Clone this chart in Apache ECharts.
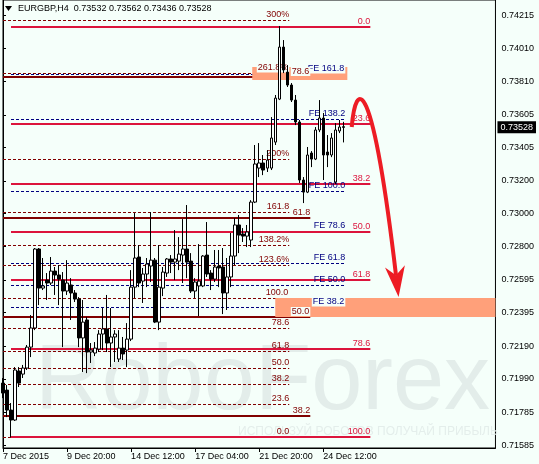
<!DOCTYPE html>
<html>
<head>
<meta charset="utf-8">
<script src="https://cdn.jsdelivr.net/npm/echarts@6/dist/echarts.min.js"></script>
<style>
html, body { margin: 0; padding: 0; background: #F5FFFA; }
#chart { width: 539px; height: 464px; }
</style>
</head>
<body>
<div id="chart"></div>
<script>
const symbolName = 'EURGBP,H4'

// H4 candles
const opens = [0.71964, 0.71921, 0.71799, 0.71738, 0.72038, 0.72019, 0.72056, 0.72184, 0.72301, 0.72784,
  0.72545, 0.72594, 0.72576, 0.72649, 0.72625, 0.72594, 0.72527, 0.72564, 0.72515, 0.72478,
  0.72240, 0.72350, 0.72154, 0.72148, 0.72172, 0.72264, 0.72295, 0.72209, 0.72246, 0.72111,
  0.72178, 0.72166, 0.72233, 0.72551, 0.72735, 0.72588, 0.72631, 0.72680, 0.72716, 0.72337,
  0.72545, 0.72637, 0.72723, 0.72704, 0.72710, 0.72747, 0.72784, 0.72710, 0.72527, 0.72558,
  0.72558, 0.72747, 0.72637, 0.72600, 0.72680, 0.72674, 0.72515, 0.72613, 0.72741, 0.72931,
  0.72876, 0.72863, 0.72839, 0.73071, 0.73279, 0.73310, 0.73279, 0.73279, 0.73438, 0.73701,
  0.74019, 0.73866, 0.73787, 0.73695, 0.73561, 0.73206, 0.73132, 0.73371, 0.73334, 0.73512,
  0.73585, 0.73377, 0.73359, 0.73194, 0.73506, 0.73532]
const closes = [0.71903, 0.71799, 0.71738, 0.72044, 0.71964, 0.72056, 0.72184, 0.72301, 0.72784, 0.72545,
  0.72558, 0.72576, 0.72649, 0.72625, 0.72600, 0.72527, 0.72576, 0.72515, 0.72478, 0.72240,
  0.72337, 0.72154, 0.72166, 0.72178, 0.72264, 0.72295, 0.72209, 0.72246, 0.72264, 0.72178,
  0.72142, 0.72233, 0.72551, 0.72729, 0.72576, 0.72631, 0.72692, 0.72716, 0.72337, 0.72551,
  0.72643, 0.72723, 0.72704, 0.72723, 0.72753, 0.72784, 0.72704, 0.72527, 0.72582, 0.72588,
  0.72741, 0.72631, 0.72600, 0.72674, 0.72668, 0.72515, 0.72613, 0.72741, 0.72931, 0.72869,
  0.72863, 0.72888, 0.73071, 0.73304, 0.73310, 0.73267, 0.73328, 0.73463, 0.73707, 0.74019,
  0.73879, 0.73787, 0.73695, 0.73561, 0.73206, 0.73132, 0.73359, 0.73334, 0.73512, 0.73585,
  0.73359, 0.73359, 0.73463, 0.73512, 0.73530, 0.73528]
const lows = [0.71872, 0.71756, 0.71634, 0.71732, 0.71940, 0.71995, 0.72044, 0.72123, 0.72288, 0.72441,
  0.72533, 0.72472, 0.72564, 0.72503, 0.72441, 0.72184, 0.72503, 0.72350, 0.72460, 0.72184,
  0.72032, 0.72025, 0.72087, 0.72129, 0.72154, 0.72166, 0.72154, 0.72062, 0.72093, 0.72093,
  0.72105, 0.72062, 0.72221, 0.72484, 0.72551, 0.72454, 0.72551, 0.72582, 0.72331, 0.72288,
  0.72496, 0.72613, 0.72637, 0.72594, 0.72655, 0.72576, 0.72606, 0.72515, 0.72484, 0.72374,
  0.72551, 0.72613, 0.72533, 0.72582, 0.72551, 0.72386, 0.72411, 0.72551, 0.72686, 0.72759,
  0.72827, 0.72796, 0.72796, 0.73065, 0.73224, 0.73236, 0.73255, 0.73267, 0.73420, 0.73695,
  0.73860, 0.73775, 0.73683, 0.73542, 0.73188, 0.73065, 0.73126, 0.73285, 0.73328, 0.73499,
  0.73206, 0.73285, 0.73346, 0.73181, 0.73493, 0.73436]
const highs = [0.71995, 0.71952, 0.71842, 0.72062, 0.72062, 0.72075, 0.72197, 0.72380, 0.72790, 0.72790,
  0.72729, 0.72637, 0.72735, 0.72674, 0.72686, 0.72643, 0.72716, 0.72606, 0.72533, 0.72490,
  0.72472, 0.72368, 0.72209, 0.72215, 0.72288, 0.72423, 0.72503, 0.72423, 0.72288, 0.72288,
  0.72246, 0.72331, 0.72655, 0.73004, 0.72808, 0.72668, 0.72729, 0.73010, 0.72729, 0.72808,
  0.72674, 0.72729, 0.72747, 0.72900, 0.72857, 0.72967, 0.73053, 0.72759, 0.72606, 0.72814,
  0.72747, 0.72949, 0.72655, 0.72778, 0.72778, 0.72790, 0.72729, 0.72882, 0.72973, 0.72992,
  0.72912, 0.72931, 0.73083, 0.73420, 0.73432, 0.73359, 0.73389, 0.73591, 0.73726, 0.74148,
  0.74062, 0.73909, 0.73799, 0.73726, 0.73573, 0.73224, 0.73408, 0.73383, 0.73530, 0.73695,
  0.73616, 0.73481, 0.73493, 0.73554, 0.73573, 0.73562]

// time axis: one slot per bar, room left on the right
const slotCount = 124
const tickStep = 16
const tickLabels = ['7 Dec 2015', '9 Dec 20:00', '14 Dec 12:00', '17 Dec 04:00', '21 Dec 20:00', '24 Dec 12:00']

// price axis
const yMin = 0.71567
const yMax = 0.74307
const priceTicks = [0.74215, 0.74010, 0.73810, 0.73605, 0.73405, 0.73200, 0.73000,
  0.72800, 0.72595, 0.72395, 0.72190, 0.71990, 0.71785, 0.71585]

// fibonacci tools: price at 0% and at 100%, levels and their captions
const retraceAnchors = [0.74142, 0.71634]
const retraceLevels = [0, 23.6, 38.2, 50, 61.8, 78.6, 100]
const retraceTexts = ['0.0', '23.6', '38.2', '50.0', '61.8', '78.6', '100.0']

const extAnchors = [0.71634, 0.72484]
const extLevels = [0, 23.6, 38.2, 50, 61.8, 78.6, 100, 123.6, 138.2, 161.8, 200, 261.8, 300]
const extTexts = ['0.0', '23.6', '38.2', '50.0', '61.8', '78.6', '100.0', '123.6%', '138.2%', '161.8', '200%', '261.8%', '300%']

const bigAnchors = [0.69799, 0.74934]
const bigLevels = [38.2, 50, 61.8, 78.6]
const bigTexts = ['38.2', '50.0', '61.8', '78.6']

const feAnchors = [0.71986, 0.73139]
const feLevels = [38.2, 50, 61.8, 78.6, 100, 138.2, 161.8]
const feTexts = ['FE 38.2', 'FE 50.0', 'FE 61.8', 'FE 78.6', 'FE 100.0', 'FE 138.2', 'FE 161.8']

// target zones [x from, x to, price top, price bottom]
const zones = [
  [62.25, 86, 0.73897, 0.73817],
  [68, 123, 0.72484, 0.72368]
]

// forecast arrow: start, two control points, tip (bar slot, price)
const arrowPath = [87.1, 0.73530, 88.1, 0.73817, 92.1, 0.73879, 98.8, 0.72490]

const bg = '#F5FFFA'
const font = 'Liberation Sans, Arial, sans-serif'

function fiboRows (anchors, levels, texts, x0, x1, color, width, dash) {
  return levels.map((lvl, i) => ({
    x0: x0,
    x1: x1,
    price: anchors[0] + (anchors[1] - anchors[0]) * lvl / 100,
    text: texts[i],
    color: color,
    width: width,
    dash: dash
  }))
}

const levelRows = [].concat(
  fiboRows(extAnchors, extLevels, extTexts, 0, 71.5, '#800000', 1, [3, 2]),
  fiboRows(feAnchors, feLevels, feTexts, 2, 85.5, '#000080', 1, [3, 2]),
  fiboRows(bigAnchors, bigLevels, bigTexts, 0, 76.75, '#800000', 2, null),
  fiboRows(retraceAnchors, retraceLevels, retraceTexts, 2, 91.75, '#DC143C', 2, null)
)

// a caption that sits inside a zone gets a patch of chart background behind it
function inZone (row) {
  return zones.some(z => row.x1 > z[0] && row.price <= z[2] + 0.00002 && row.price >= z[3] - 0.00002)
}

function levelY (api, row) {
  const a = api.coord([row.x0, row.price])
  const b = api.coord([row.x1, row.price])
  return [a[0], b[0], Math.round(a[1]) + (row.width === 1 ? 0.5 : 0)]
}

const last = opens.length - 1
const header = symbolName + '  ' + [opens[last], highs[last], lows[last], closes[last]].map(v => v.toFixed(5)).join(' ')
const candles = opens.map((o, i) => [o, closes[i], lows[i], highs[i]])
const slots = []
for (let i = 0; i < slotCount; i++) slots.push(i)
const onTick = (i) => i % tickStep === 0 && i / tickStep < tickLabels.length

const chart = echarts.init(document.getElementById('chart'))

chart.setOption({
  animation: false,
  backgroundColor: bg,
  grid: { left: 3, right: 43, top: 0, bottom: 16, show: true, borderColor: '#000', borderWidth: 1, backgroundColor: 'transparent' },
  graphic: [
    { type: 'text', left: 35, top: 338, z: 0, silent: true, style: { text: 'RoboForex', font: '92px ' + font, fill: '#E3EDEA' } },
    { type: 'text', left: 238, top: 426, z: 0, silent: true, style: { text: 'ИСПОЛЬЗУЙ РОБОТОВ ПОЛУЧАЙ ПРИБЫЛЬ', font: '12px ' + font, fill: '#E4EEEB' } },
    { type: 'polygon', z: 10, shape: { points: [[5, 6], [12, 6], [8.5, 11]] }, style: { fill: '#000' } },
    { type: 'text', left: 18, top: 4, z: 10, style: { text: header, font: '9px ' + font, fill: '#000' } }
  ],
  xAxis: [
    {
      type: 'category',
      data: slots,
      boundaryGap: false,
      axisLine: { lineStyle: { color: '#000' } },
      axisTick: { interval: onTick, length: 4, lineStyle: { color: '#000' } },
      axisLabel: {
        interval: onTick,
        formatter: (v, i) => tickLabels[i / tickStep],
        align: 'left',
        margin: 4,
        color: '#000',
        fontSize: 9,
        fontFamily: font
      },
      splitLine: { show: false }
    },
    { type: 'value', min: 0, max: slotCount - 1, show: false }
  ],
  yAxis: [
    {
      type: 'value',
      position: 'right',
      min: yMin,
      max: yMax,
      axisLine: { show: true, lineStyle: { color: '#000' } },
      axisTick: { show: true, length: 3, customValues: priceTicks, lineStyle: { color: '#000' } },
      axisLabel: { customValues: priceTicks, formatter: v => v.toFixed(5), color: '#000', fontSize: 9, fontFamily: font, margin: 6 },
      splitLine: { show: false }
    },
    {
      type: 'value',
      position: 'right',
      min: yMin,
      max: yMax,
      axisLine: { show: false },
      axisTick: { show: false },
      splitLine: { show: false },
      axisLabel: {
        customValues: [closes[last]],
        formatter: v => v.toFixed(5),
        color: '#fff',
        backgroundColor: '#000',
        padding: [2, 3, 1, 3],
        fontSize: 9,
        fontFamily: font,
        margin: 2
      }
    }
  ],
  series: [
    {
      // fibo level lines
      type: 'custom',
      xAxisIndex: 1,
      z: 1,
      silent: true,
      data: levelRows.map(r => [r.x0, r.x1, r.price]),
      renderItem: (params, api) => {
        const row = levelRows[params.dataIndex]
        const l = levelY(api, row)
        return { type: 'line', shape: { x1: l[0], y1: l[2], x2: l[1], y2: l[2] }, style: { stroke: row.color, lineWidth: row.width, lineDash: row.dash } }
      }
    },
    {
      // target zones, painted over the lines
      type: 'custom',
      xAxisIndex: 1,
      z: 2,
      silent: true,
      data: zones,
      renderItem: (params, api) => {
        const a = api.coord([api.value(0), api.value(2)])
        const b = api.coord([api.value(1), api.value(3)])
        return { type: 'rect', shape: { x: a[0], y: a[1], width: b[0] - a[0], height: b[1] - a[1] }, style: { fill: '#FFA07A' } }
      }
    },
    {
      // level captions
      type: 'custom',
      xAxisIndex: 1,
      z: 3,
      silent: true,
      data: levelRows.map(r => [r.x0, r.x1, r.price]),
      renderItem: (params, api) => {
        const row = levelRows[params.dataIndex]
        const l = levelY(api, row)
        return {
          type: 'text',
          x: l[1],
          y: l[2] - 1,
          style: { text: row.text, fill: row.color, font: '9px ' + font, align: 'right', verticalAlign: 'bottom', backgroundColor: inZone(row) ? bg : null, padding: inZone(row) ? [0, 1, 0, 1] : 0 }
        }
      }
    },
    {
      type: 'candlestick',
      xAxisIndex: 0,
      yAxisIndex: 0,
      z: 5,
      barWidth: 3,
      data: candles,
      itemStyle: { color: '#fff', color0: '#000', borderColor: '#000', borderColor0: '#000', borderWidth: 1 }
    },
    {
      // forecast arrow
      type: 'custom',
      xAxisIndex: 1,
      z: 8,
      silent: true,
      data: [arrowPath],
      renderItem: (params, api) => {
        const p = []
        for (let k = 0; k < 4; k++) p.push(api.coord([api.value(2 * k), api.value(2 * k + 1)]))
        const dx = p[3][0] - p[2][0]
        const dy = p[3][1] - p[2][1]
        const len = Math.hypot(dx, dy)
        const ux = dx / len
        const uy = dy / len
        const base = [p[3][0] - ux * 31, p[3][1] - uy * 31]
        const notch = [p[3][0] - ux * 22, p[3][1] - uy * 22]
        const left = [base[0] - uy * 10, base[1] + ux * 10]
        const right = [base[0] + uy * 10, base[1] - ux * 10]
        return {
          type: 'group',
          children: [
            {
              type: 'bezierCurve',
              shape: { x1: p[0][0], y1: p[0][1], cpx1: p[1][0], cpy1: p[1][1], cpx2: p[2][0], cpy2: p[2][1], x2: notch[0], y2: notch[1] },
              style: { stroke: '#ED1C24', lineWidth: 4, fill: null }
            },
            { type: 'polygon', shape: { points: [p[3], left, notch, right] }, style: { fill: '#ED1C24' } }
          ]
        }
      }
    }
  ]
})
</script>
</body>
</html>
